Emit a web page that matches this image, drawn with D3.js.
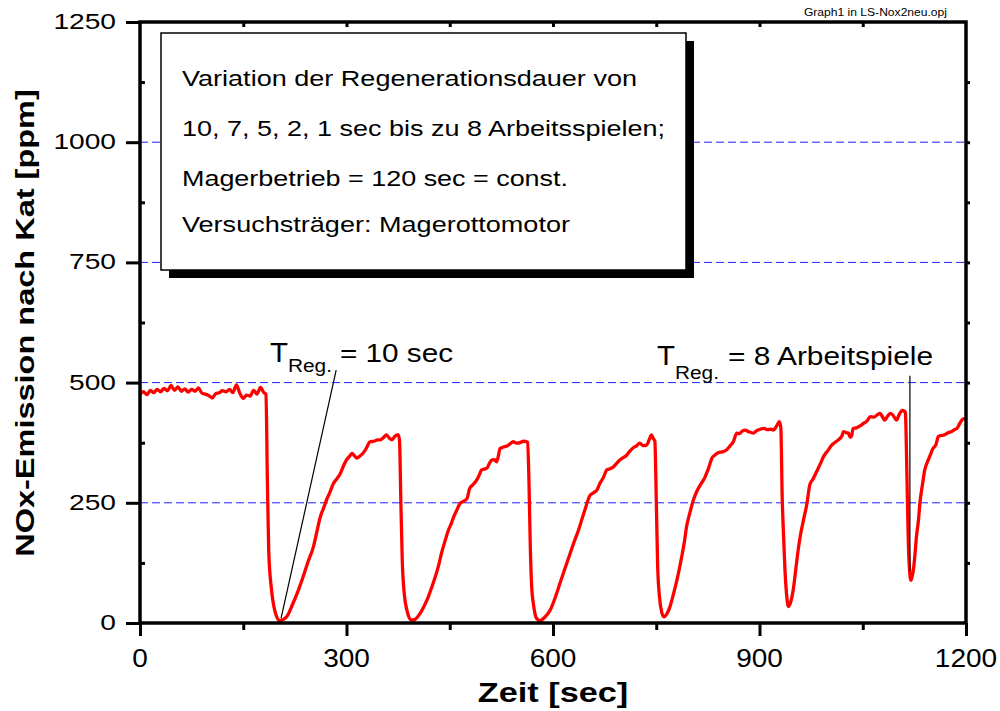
<!DOCTYPE html>
<html>
<head>
<meta charset="utf-8">
<script src="https://cdn.jsdelivr.net/npm/d3@7"></script>
<style>
  body { margin: 0; background: #fff; overflow: hidden; }
  svg { display: block; background: #fff; }
  text { font-family: "Liberation Sans", Arial, Helvetica, sans-serif; fill: #000; }
</style>
</head>
<body>
<svg id="chart" width="1000" height="711"></svg>
<script>
// NOx downstream of the catalyst over time [sec, ppm]
const zeit = [
  0, 5, 10, 15, 20, 25, 30, 35, 40, 45, 50, 55, 60, 65, 70, 75, 80, 85, 90, 95,
  100, 105, 110, 115, 120, 125, 130, 135, 140, 145, 150, 155, 160, 165, 170, 175, 180, 183,
  185, 187, 191, 196, 203, 213, 222, 230, 237, 244, 252, 257, 262, 267, 271, 276, 281, 286,
  291, 296, 300, 304, 308, 312, 315, 320, 324, 329, 334, 340, 345, 349, 354, 358, 362, 366,
  370, 373, 375,
  377, 379, 381, 384, 388, 394, 400, 407, 413, 419, 424, 429, 434, 438, 443, 448, 452, 455,
  460, 465, 470, 475, 479, 484, 489, 493, 496, 500, 504, 508, 511, 515, 518, 521, 523, 528,
  533, 538, 542, 547, 552, 557, 562, 563,
  565, 567, 569, 572, 576, 581, 588, 596, 603, 610, 617, 625, 631, 637, 642, 647, 650, 654,
  659, 664, 668, 673, 678, 683, 688, 693, 697, 702, 707, 712, 717, 721, 726, 731, 736, 740,
  743, 746, 748,
  750, 752, 755, 758, 761, 765, 770, 775, 780, 784, 787, 791, 794, 799, 804, 809, 814, 818,
  821, 826, 831, 835, 840, 846, 852, 857, 862, 867, 871, 875, 879, 884, 891, 896, 901, 906,
  912, 917, 920, 925, 929, 931,
  933, 935, 937, 939, 942, 945, 949, 953, 956, 959, 964, 969, 973, 978, 983, 988, 993, 999,
  1005, 1011, 1017, 1020, 1022, 1026, 1029, 1032, 1034, 1036, 1041, 1046, 1051, 1056, 1061,
  1066, 1071, 1075, 1079, 1082, 1086, 1090, 1094, 1099, 1103, 1107, 1111, 1112,
  1114, 1115, 1116, 1118, 1120, 1122, 1124, 1126, 1128, 1131, 1133, 1137, 1140, 1144, 1148,
  1152, 1156, 1160, 1164, 1168, 1172, 1176, 1179, 1183, 1187, 1191, 1194, 1197, 1200
];
const nox = [
  476, 481, 475, 484, 479, 486, 481, 488, 483, 494, 484, 491, 482, 487, 480, 486, 482, 489, 478, 476,
  473, 468, 477, 479, 483, 481, 486, 479, 495, 478, 467, 474, 472, 484, 476, 490, 479, 476,
  300, 150, 70, 25, 5, 13, 40, 68, 96, 127, 159, 190, 221, 240, 256, 272, 290, 300,
  311, 328, 339, 346, 353, 347, 343, 348, 353, 364, 377, 378, 381, 381, 386, 391, 385, 381,
  388, 391, 392,
  380, 250, 130, 60, 25, 6, 8, 20, 36, 55, 75, 96, 121, 145, 170, 193, 206, 218,
  234, 249, 253, 259, 280, 288, 297, 308, 318, 320, 322, 333, 339, 340, 335, 350, 363, 366,
  368, 373, 377, 374, 375, 378, 377, 376,
  300, 160, 76, 35, 10, 5, 12, 27, 52, 82, 112, 145, 170, 193, 216, 238, 252, 266,
  271, 277, 290, 302, 318, 321, 325, 333, 339, 344, 349, 358, 365, 368, 374, 369, 370, 382,
  391, 383, 378,
  260, 120, 50, 22, 13, 18, 34, 60, 89, 116, 138, 170, 200, 230, 256, 274, 287, 296,
  304, 322, 343, 349, 354, 356, 360, 368, 377, 395, 394, 399, 401, 398, 395, 400, 403, 405,
  402, 403, 401, 410, 419, 405,
  260, 180, 110, 65, 34, 42, 69, 115, 150, 179, 215, 249, 287, 300, 315, 330, 346, 358,
  370, 377, 384, 390, 398, 396, 395, 386, 390, 405, 406, 410, 415, 420, 429,
  428, 433, 436, 428, 422, 430, 436, 432, 422, 434, 442, 440, 436,
  320, 249, 180, 110, 89, 98, 115, 145, 179, 215, 249, 290, 318, 335, 349,
  363, 370, 388, 390, 391, 394, 397, 398, 402, 405, 415, 422, 425, 424
];

const xMajor = [0, 300, 600, 900, 1200];
const xMinor = [150, 450, 750, 1050];
const xTop = [150, 300, 450, 600, 750, 900, 1050];
const yMajor = [0, 250, 500, 750, 1000, 1250];
const yMinor = [125, 375, 625, 875, 1125];
const yRight = [125, 250, 375, 500, 625, 750, 875, 1000, 1125];
const gridLevels = [250, 500, 750, 1000];

const infoLines = [
  "Variation der Regenerationsdauer von",
  "10, 7, 5, 2, 1 sec bis zu 8 Arbeitsspielen;",
  "Magerbetrieb = 120 sec = const.",
  "Versuchsträger: Magerottomotor"
];
const infoWidths = [455, 483, 386, 388];

// pointer lines for the two regeneration labels: [t0, v0, t1, v1]
const pointer10s = [285, 526, 205, 10];
const pointer8AS = [1118.5, 514, 1118.5, 108];

const svg = d3.select("#chart");
const plotL = 140, plotR = 966, plotT = 22, plotB = 623;

const x = d3.scaleLinear().domain([0, 1200]).range([plotL, plotR]);
const y = d3.scaleLinear().domain([0, 1250]).range([plotB, plotT]);

// dashed reference lines
svg.append("g").selectAll("line").data(gridLevels).join("line")
  .attr("x1", plotL).attr("x2", plotR)
  .attr("y1", d => y(d)).attr("y2", d => y(d))
  .attr("stroke", "#1f1fff").attr("stroke-width", 1)
  .attr("stroke-dasharray", "8,4");

// measured curve
const pts = zeit.map((t, i) => [t, nox[i]]);
svg.append("path")
  .datum(pts)
  .attr("fill", "none")
  .attr("stroke", "#ff0000")
  .attr("stroke-width", 3.3)
  .attr("stroke-linejoin", "round")
  .attr("d", d3.line().x(d => x(d[0])).y(d => y(d[1])).curve(d3.curveMonotoneX));

// axes: only tick marks come from d3-axis, labels are placed below
function tickOnly(g) {
  g.select(".domain").remove();
  g.selectAll(".tick text").remove();
  g.selectAll(".tick line").attr("stroke", "#000").attr("stroke-width", 3);
}

svg.append("g").attr("transform", `translate(0,${plotB})`)
  .call(d3.axisBottom(x).tickValues(xMajor).tickSize(13)).call(tickOnly);
svg.append("g").attr("transform", `translate(0,${plotB})`)
  .call(d3.axisBottom(x).tickValues(xMinor).tickSize(7)).call(tickOnly);
svg.append("g").attr("transform", `translate(0,${plotT})`)
  .call(d3.axisBottom(x).tickValues(xTop).tickSize(5)).call(tickOnly);
svg.append("g").attr("transform", `translate(${plotL},0)`)
  .call(d3.axisLeft(y).tickValues(yMajor).tickSize(14)).call(tickOnly);
svg.append("g").attr("transform", `translate(${plotL},0)`)
  .call(d3.axisRight(y).tickValues(yMinor).tickSize(5)).call(tickOnly);
svg.append("g").attr("transform", `translate(${plotR},0)`)
  .call(d3.axisRight(y).tickValues(yRight).tickSize(4)).call(tickOnly);

// tick labels, horizontally widened like the original print
svg.append("g").selectAll("text").data(xMajor).join("text")
  .attr("transform", d => `translate(${x(d)},667) scale(1.12,1)`)
  .attr("text-anchor", "middle")
  .attr("font-size", 25)
  .text(d => d);

svg.append("g").selectAll("text").data(yMajor).join("text")
  .attr("transform", d => `translate(116,${y(d) + 7}) scale(1.28,1)`)
  .attr("text-anchor", "end")
  .attr("font-size", 22)
  .text(d => d);

// plot frame
svg.append("rect")
  .attr("x", plotL).attr("y", plotT)
  .attr("width", plotR - plotL).attr("height", plotB - plotT)
  .attr("fill", "none").attr("stroke", "#000").attr("stroke-width", 3.5);

// axis titles
svg.append("text")
  .attr("transform", `translate(${(plotL + plotR) / 2},702) scale(1.27,1)`)
  .attr("text-anchor", "middle")
  .attr("font-size", 27).attr("font-weight", "bold")
  .text("Zeit [sec]");

svg.append("text")
  .attr("transform", "translate(34,323) rotate(-90) scale(1.25,1)")
  .attr("text-anchor", "middle")
  .attr("font-size", 26).attr("font-weight", "bold")
  .text("NOx-Emission nach Kat [ppm]");

// file caption
svg.append("text")
  .attr("transform", "translate(947,16) scale(1.1,1)")
  .attr("text-anchor", "end")
  .attr("font-size", 11)
  .text("Graph1 in LS-Nox2neu.opj");

// info box with drop shadow
const box = { x: 161, y: 33, w: 525, h: 237 };
svg.append("rect")
  .attr("x", box.x + 8).attr("y", box.y + 8)
  .attr("width", box.w).attr("height", box.h)
  .attr("fill", "#000");
svg.append("rect")
  .attr("x", box.x).attr("y", box.y)
  .attr("width", box.w).attr("height", box.h)
  .attr("fill", "#fff").attr("stroke", "#000").attr("stroke-width", 1.5);
svg.append("g").selectAll("text").data(infoLines).join("text")
  .attr("x", 182)
  .attr("y", (d, i) => [86, 136, 186, 232][i])
  .attr("font-size", 22)
  .attr("textLength", (d, i) => infoWidths[i])
  .attr("lengthAdjust", "spacingAndGlyphs")
  .text(d => d);

// regeneration labels
function regLabel(tx, base, subBase, restX, restText, restWidth) {
  const g = svg.append("g");
  g.append("text").attr("x", tx).attr("y", base)
    .attr("font-size", 27).attr("textLength", 18).attr("lengthAdjust", "spacingAndGlyphs")
    .text("T");
  g.append("text").attr("x", tx + 18).attr("y", subBase)
    .attr("font-size", 18).attr("textLength", 44).attr("lengthAdjust", "spacingAndGlyphs")
    .text("Reg.");
  g.append("text").attr("x", restX).attr("y", base)
    .attr("font-size", 26).attr("textLength", restWidth).attr("lengthAdjust", "spacingAndGlyphs")
    .text(restText);
}
regLabel(270, 362, 372, 340, "= 10 sec", 113);
regLabel(657, 365, 379, 728, "= 8 Arbeitspiele", 205);

[pointer10s, pointer8AS].forEach(p => {
  svg.append("line")
    .attr("x1", x(p[0])).attr("y1", y(p[1]))
    .attr("x2", x(p[2])).attr("y2", y(p[3]))
    .attr("stroke", "#000").attr("stroke-width", 1.2);
});
</script>
</body>
</html>
